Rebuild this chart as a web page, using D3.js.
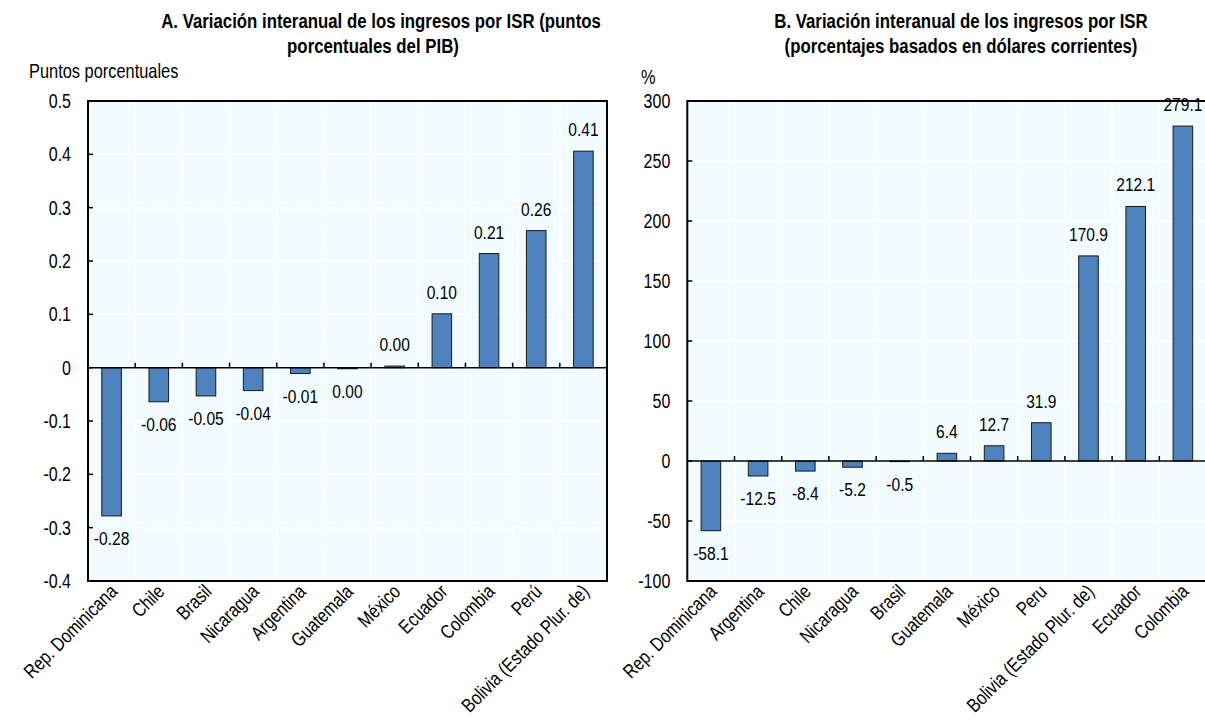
<!DOCTYPE html>
<html>
<head>
<meta charset="utf-8">
<script src="https://cdn.jsdelivr.net/npm/d3@7"></script>
<style>
  html, body { margin: 0; padding: 0; background: #ffffff; }
  svg { display: block; }
</style>
</head>
<body>
<svg id="chart" width="1205" height="721"></svg>
<script>
// ---------------- DATA ----------------
const titleA = ["A. Variación interanual de los ingresos por ISR (puntos", "porcentuales del PIB)"];
const titleB = ["B. Variación interanual de los ingresos por ISR", "(porcentajes basados en dólares corrientes)"];
const unitA = "Puntos porcentuales";
const unitB = "%";

const categoriesA = ["Rep. Dominicana", "Chile", "Brasil", "Nicaragua", "Argentina", "Guatemala", "México", "Ecuador", "Colombia", "Perú", "Bolivia (Estado Plur. de)"];
const valuesA = [-0.278, -0.064, -0.053, -0.043, -0.011, -0.002, 0.003, 0.101, 0.214, 0.257, 0.406];
const labelsA = ["-0.28", "-0.06", "-0.05", "-0.04", "-0.01", "0.00", "0.00", "0.10", "0.21", "0.26", "0.41"];
const ticksA = [-0.4, -0.3, -0.2, -0.1, 0, 0.1, 0.2, 0.3, 0.4, 0.5];
const tickLabelsA = ["-0.4", "-0.3", "-0.2", "-0.1", "0", "0.1", "0.2", "0.3", "0.4", "0.5"];

const categoriesB = ["Rep. Dominicana", "Argentina", "Chile", "Nicaragua", "Brasil", "Guatemala", "México", "Peru", "Bolivia (Estado Plur. de)", "Ecuador", "Colombia"];
const valuesB = [-58.1, -12.5, -8.4, -5.2, -0.5, 6.4, 12.7, 31.9, 170.9, 212.1, 279.1];
const labelsB = ["-58.1", "-12.5", "-8.4", "-5.2", "-0.5", "6.4", "12.7", "31.9", "170.9", "212.1", "279.1"];
const ticksB = [-100, -50, 0, 50, 100, 150, 200, 250, 300];
const tickLabelsB = ["-100", "-50", "0", "50", "100", "150", "200", "250", "300"];

// ---------------- STYLE ----------------
const BAR_FILL = "#4F81BD";
const BAR_STROKE = "#1a1a1a";
const PLOT_BG = "#F2FCFF";
const TEXT = "#000000";

function hasFont(name) {
  const c = document.createElement("canvas").getContext("2d");
  const s = "Rep. Dominicana Wmi 0123";
  c.font = "20px monospace";
  const a = c.measureText(s).width;
  c.font = "20px '" + name + "', monospace";
  const b = c.measureText(s).width;
  return Math.abs(a - b) > 0.5;
}
let FONT, SX;
if (hasFont("Liberation Sans Narrow")) { FONT = "'Liberation Sans Narrow', 'Arial Narrow', sans-serif"; SX = 1; }
else if (hasFont("Arial Narrow")) { FONT = "'Arial Narrow', sans-serif"; SX = 1; }
else { FONT = "'Liberation Sans', Arial, sans-serif"; SX = 0.82; }

const svg = d3.select("#chart");

function addText(parent, x, y, str, opt) {
  opt = opt || {};
  const g = parent.append("g")
    .attr("transform", `translate(${x},${y}) rotate(${opt.rotate || 0}) scale(${SX},1)`);
  g.append("text")
    .attr("x", 0).attr("y", 0)
    .attr("dy", opt.dy || 0)
    .attr("text-anchor", opt.anchor || "start")
    .attr("font-family", FONT)
    .attr("font-size", opt.size || 19)
    .attr("font-weight", opt.weight || "normal")
    .attr("fill", TEXT)
    .text(str);
  return g;
}

function panel(cfg) {
  const g = svg.append("g");
  const x = d3.scaleBand().domain(cfg.categories).range([cfg.x0, cfg.x1])
    .paddingInner(0.585).paddingOuter(0.2925);
  const y = d3.scaleLinear().domain(cfg.domain).range([cfg.yBot, cfg.yTop]);
  const step = x.step();

  // background
  g.append("rect").attr("x", cfg.x0).attr("y", cfg.yTop)
    .attr("width", cfg.x1 - cfg.x0).attr("height", cfg.yBot - cfg.yTop)
    .attr("fill", PLOT_BG);

  // gridlines (white)
  g.selectAll("line.hg").data(cfg.ticks).enter().append("line")
    .attr("x1", cfg.x0).attr("x2", cfg.x1)
    .attr("y1", d => y(d)).attr("y2", d => y(d))
    .attr("stroke", "#ffffff").attr("stroke-width", 1.5);
  const bounds = d3.range(1, cfg.categories.length).map(i => cfg.x0 + i * step);
  g.selectAll("line.vg").data(bounds).enter().append("line")
    .attr("x1", d => d).attr("x2", d => d)
    .attr("y1", cfg.yTop).attr("y2", cfg.yBot)
    .attr("stroke", "#ffffff").attr("stroke-width", 1.5);

  // bars
  g.selectAll("rect.bar").data(cfg.values).enter().append("rect")
    .attr("x", (d, i) => x(cfg.categories[i]))
    .attr("width", x.bandwidth())
    .attr("y", d => y(Math.max(0, d)))
    .attr("height", d => Math.abs(y(d) - y(0)))
    .attr("fill", BAR_FILL)
    .attr("stroke", BAR_STROKE).attr("stroke-width", 1);

  // zero line + ticks on it
  g.append("line").attr("x1", cfg.x0).attr("x2", cfg.x1)
    .attr("y1", y(0)).attr("y2", y(0)).attr("stroke", "#000").attr("stroke-width", 1.5);
  g.selectAll("line.zt").data(bounds).enter().append("line")
    .attr("x1", d => d).attr("x2", d => d)
    .attr("y1", y(0)).attr("y2", y(0) - 5)
    .attr("stroke", "#000").attr("stroke-width", 1.5);

  // frame
  g.append("rect").attr("x", cfg.x0).attr("y", cfg.yTop)
    .attr("width", cfg.x1 - cfg.x0).attr("height", cfg.yBot - cfg.yTop)
    .attr("fill", "none").attr("stroke", "#000").attr("stroke-width", 2);

  // y ticks
  g.selectAll("line.yt").data(cfg.ticks).enter().append("line")
    .attr("x1", cfg.x0).attr("x2", cfg.x0 + 5)
    .attr("y1", d => y(d)).attr("y2", d => y(d))
    .attr("stroke", "#000").attr("stroke-width", 1.5);
  cfg.ticks.forEach((t, i) => {
    addText(g, cfg.x0 - 17, y(t), cfg.tickLabels[i], { anchor: "end", dy: "0.35em", size: 19.5 });
  });

  // value labels
  cfg.values.forEach((v, i) => {
    const cx = x(cfg.categories[i]) + x.bandwidth() / 2;
    if (v >= 0) addText(g, cx, y(v) - 15, cfg.labels[i], { anchor: "middle" });
    else addText(g, cx, y(v) + 29, cfg.labels[i], { anchor: "middle" });
  });

  // category labels
  cfg.categories.forEach((c) => {
    const cx = x(c) + x.bandwidth() / 2;
    addText(g, cx + 2, cfg.yBot + 7, c, { anchor: "end", rotate: -45, dy: "0.35em", size: 19.5 });
  });

  // titles
  cfg.title.forEach((t, i) => {
    addText(g, cfg.titleX[i], cfg.titleY[i], t, { anchor: "middle", weight: "bold", size: 20.5 });
  });
  addText(g, cfg.unitX, cfg.unitY, cfg.unit, { anchor: "start", size: 20 });
}

panel({
  categories: categoriesA, values: valuesA, labels: labelsA,
  ticks: ticksA, tickLabels: tickLabelsA, domain: [-0.4, 0.5],
  x0: 88, x1: 607, yTop: 101, yBot: 581,
  title: titleA, titleX: [381, 373], titleY: [28, 53],
  unit: unitA, unitX: 29, unitY: 78
});
panel({
  categories: categoriesB, values: valuesB, labels: labelsB,
  ticks: ticksB, tickLabels: tickLabelsB, domain: [-100, 300],
  x0: 687.3, x1: 1206.5, yTop: 101, yBot: 581,
  title: titleB, titleX: [961, 961], titleY: [28, 53],
  unit: unitB, unitX: 641, unitY: 84
});
</script>
</body>
</html>
